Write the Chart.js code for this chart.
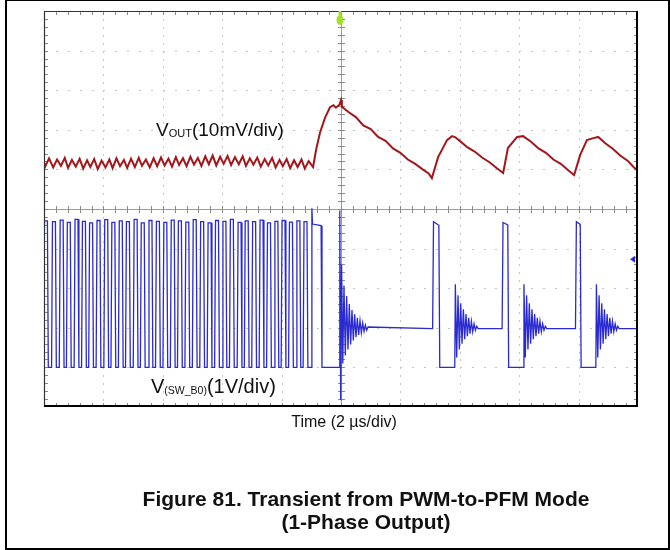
<!DOCTYPE html>
<html>
<head>
<meta charset="utf-8">
<script src="https://cdn.jsdelivr.net/npm/chart.js@4.4.0/dist/chart.umd.min.js"></script>
<style>
    body { margin: 0; background: #fff; }
    #page { position: relative; width: 670px; height: 550px; overflow: hidden; font-family: "Liberation Sans", Arial, sans-serif; color: #111; }
    #frame { position: absolute; left: 5px; top: -1px; width: 661px; height: 547px; border: 2px solid #000; }
    #scope { position: absolute; left: 0; top: 0; }
    .lbl { position: absolute; white-space: nowrap; line-height: 1; }
    .lbl .sub { vertical-align: baseline; position: relative; top: 1px; }
    #voutLabel { left: 156px; top: 120px; font-size: 19px; }
    #voutLabel .sub { font-size: 11px; }
    #swLabel { left: 151px; top: 376px; font-size: 20px; }
    #swLabel .sub { font-size: 10.5px; }
    #timeLabel { left: 194px; width: 300px; top: 414px; font-size: 16px; text-align: center; }
    #caption { left: 116px; width: 500px; top: 487px; font-size: 21px; line-height: 23px; font-weight: bold; text-align: center; }
</style>
</head>
<body>
<div id="page">
    <canvas id="scope" width="670" height="550"></canvas>
    <div id="frame"></div>
    <div class="lbl" id="voutLabel">V<span class="sub">OUT</span>(10mV/div)</div>
    <div class="lbl" id="swLabel">V<span class="sub">(SW_B0)</span>(1V/div)</div>
    <div class="lbl" id="timeLabel">Time (2 µs/div)</div>
    <div class="lbl" id="caption">Figure 81. Transient from PWM-to-PFM Mode<br>(1-Phase Output)</div>
</div>
<script>
// Time in microseconds (2 us/div, trigger at 0)
// PWM switching pulses of V(SW_B0): rising and falling edges, and top level in V
var pwmRise = [-10.00, -9.73, -9.47, -9.23, -8.97, -8.72, -8.48, -8.23, -7.97, -7.73, -7.48, -7.24,
    -6.98, -6.74, -6.48, -6.23, -5.98, -5.73, -5.49, -5.24, -4.99, -4.74, -4.49, -4.24,
    -3.99, -3.74, -3.48, -3.24, -2.99, -2.74, -2.49, -2.24, -2.00, -1.75, -1.50, -1.26];
var pwmFall = [-9.87, -9.60, -9.34, -9.10, -8.84, -8.59, -8.35, -8.10, -7.84, -7.60, -7.35, -7.11,
    -6.85, -6.61, -6.35, -6.10, -5.85, -5.60, -5.36, -5.11, -4.86, -4.61, -4.36, -4.11,
    -3.86, -3.61, -3.35, -3.11, -2.86, -2.61, -2.36, -2.11, -1.87, -1.62, -1.37, -1.13];
var pwmTop = [3.70, 3.68, 3.72, 3.66, 3.74, 3.69, 3.65, 3.71, 3.73, 3.66, 3.70, 3.68,
    3.74, 3.65, 3.71, 3.69, 3.66, 3.72, 3.70, 3.67, 3.73, 3.68, 3.65, 3.71,
    3.69, 3.74, 3.66, 3.70, 3.68, 3.72, 3.65, 3.69, 3.71, 3.67, 3.70, 3.68];
var swLow = 0.0;

// last wide pulse and the first ringing after the switch to PFM
var modeTimes = [-1.00, -0.98, -0.96, -0.67, -0.64, -0.06, -0.04, -0.01, 0.02, 0.06, 0.10, 0.145, 0.19, 0.235, 0.28,
    0.325, 0.37, 0.415, 0.46, 0.505, 0.55, 0.595, 0.64, 0.685, 0.73, 0.775, 0.82, 0.865, 0.91];
var modeVolts = [0.00, 4.02, 3.62, 3.58, 0.00, 0.00, 3.96, -0.83, 2.60, 0.10, 2.07, 0.30, 1.80, 0.45, 1.60,
    0.58, 1.45, 0.68, 1.34, 0.76, 1.25, 0.82, 1.18, 0.87, 1.12, 0.91, 1.07, 0.94, 1.02];

// PFM pulses
var pfmRise = [3.10, 5.44, 7.91];
var pfmFall = [3.31, 5.63, 8.07];
var pfmTopStart = [3.68, 3.66, 3.68];
var pfmTopEnd = [3.59, 3.60, 3.61];
var pfmRingStart = [3.83, 6.14, 8.58];
var pfmSettle = 0.98;
// ringing of SW node after each PFM pulse (time after ring start, volts)
var ringOffsets = [0, 0.02, 0.065, 0.11, 0.155, 0.20, 0.245, 0.29, 0.335, 0.38, 0.425, 0.47, 0.515, 0.56, 0.605, 0.65, 0.695, 0.74, 0.785];
var ringVolts = [0.00, 2.10, 0.25, 1.82, 0.45, 1.62, 0.60, 1.47, 0.71, 1.35, 0.79, 1.25, 0.85, 1.17, 0.90, 1.10, 0.94, 1.04, 0.98];

// V_OUT trace in mV (relative to PWM level)
var outTimes = [-10.00, -9.96, -9.83, -9.69, -9.56, -9.43, -9.30, -9.19, -9.06, -8.93, -8.80, -8.68, -8.55, -8.44, -8.31,
    -8.19, -8.06, -7.93, -7.80, -7.69, -7.56, -7.44, -7.31, -7.20, -7.07, -6.94, -6.81, -6.70, -6.57, -6.44, -6.31,
    -6.19, -6.06, -5.94, -5.81, -5.69, -5.56, -5.45, -5.32, -5.20, -5.07, -4.95, -4.82, -4.70, -4.57, -4.45, -4.32,
    -4.20, -4.07, -3.95, -3.82, -3.70, -3.57, -3.44, -3.31, -3.20, -3.07, -2.95, -2.82, -2.70, -2.57, -2.45, -2.32,
    -2.20, -2.07, -1.96, -1.83, -1.71, -1.58, -1.46, -1.33, -1.22, -1.09,
    -0.94, -0.84, -0.71, -0.54, -0.37, -0.25, -0.17, -0.05, 0.00, 0.03,
    0.25, 0.50, 0.75, 1.00, 1.25, 1.50, 1.75, 2.00, 2.25, 2.50, 2.75, 2.95, 3.06,
    3.27, 3.57, 3.74, 3.85, 4.00, 4.25, 4.50, 4.75, 5.00, 5.25, 5.46,
    5.62, 5.93, 6.13, 6.40, 6.65, 6.90, 7.15, 7.40, 7.65, 7.85,
    8.05, 8.28, 8.50, 8.66, 8.90, 9.15, 9.40, 9.65, 9.85, 10.00];
var outMv = [0.3, -0.9, 1.2, -1.1, 0.9, -0.7, 1.3, -1.2, 0.8, -0.9, 1.1, -1.4, 0.7, -1.0, 1.0,
    -1.5, 0.6, -1.1, 0.9, -1.3, 1.2, -0.8, 0.8, -1.2, 1.1, -1.0, 1.3, -0.7, 0.9, -1.1, 1.2,
    -0.8, 1.4, -0.6, 1.1, -0.9, 1.5, -0.5, 1.2, -0.8, 1.6, -0.4, 1.3, -0.7, 1.7, -0.3, 1.9,
    -0.6, 1.6, -0.2, 1.8, -0.5, 1.5, -0.3, 1.7, -0.7, 1.2, -0.4, 1.4, -0.9, 1.0, -0.6, 1.3,
    -1.1, 0.8, -0.8, 1.0, -1.3, 0.7, -1.0, 0.9, -1.4, 0.5,
    -1.0, 3.3, 7.6, 11.4, 14.1, 14.6, 14.0, 14.8, 15.9, 14.2,
    12.9, 11.6, 9.5, 8.6, 6.6, 5.6, 3.7, 2.6, 0.9, -0.2, -1.6, -2.6, -3.8,
    1.5, 5.8, 6.8, 6.5, 5.6, 4.0, 2.9, 1.4, 0.2, -1.3, -2.5,
    3.8, 6.6, 6.8, 5.4, 3.7, 2.6, 0.9, -0.2, -1.8, -3.0,
    2.0, 5.8, 6.3, 6.6, 5.0, 3.6, 1.9, 0.6, -1.0, -2.0];

// Build the SW node points from the edge lists
function buildSwPoints() {
    var edge = 0.015;
    var pts = [];
    for (var i = 0; i < pwmRise.length; i++) {
        pts.push({x: pwmRise[i] - edge, y: swLow});
        pts.push({x: pwmRise[i] + edge, y: pwmTop[i]});
        pts.push({x: pwmFall[i] - edge, y: pwmTop[i]});
        pts.push({x: pwmFall[i] + edge, y: swLow});
    }
    for (var j = 0; j < modeTimes.length; j++) {
        pts.push({x: modeTimes[j], y: modeVolts[j]});
    }
    for (var p = 0; p < pfmRise.length; p++) {
        pts.push({x: pfmRise[p] - edge, y: pfmSettle});
        pts.push({x: pfmRise[p] + edge, y: pfmTopStart[p]});
        pts.push({x: pfmFall[p] - edge, y: pfmTopEnd[p]});
        pts.push({x: pfmFall[p] + edge, y: swLow});
        for (var r = 0; r < ringOffsets.length; r++) {
            pts.push({x: pfmRingStart[p] + ringOffsets[r], y: ringVolts[r]});
        }
    }
    pts.push({x: 10, y: pfmSettle});
    return pts;
}

function buildOutPoints() {
    var pts = [];
    for (var i = 0; i < outTimes.length; i++) {
        pts.push({x: outTimes[i], y: outMv[i]});
    }
    return pts;
}

// Scope graticule: 10 x 10 divisions, dotted grid, centre cross with minor ticks
var graticule = {
    id: 'graticule',
    beforeDatasetsDraw: function(chart) {
        var c = chart.ctx;
        var a = chart.chartArea;
        var dw = (a.right - a.left) / 10;
        var dh = (a.bottom - a.top) / 10;
        var cx = Math.round(chart.scales.x.getPixelForValue(0));
        var cy = Math.round(a.top + 5 * dh);
        c.save();
        // dotted grid lines
        c.fillStyle = '#c4c4c4';
        for (var i = 1; i < 10; i++) {
            if (i == 5) continue;
            var gx = Math.round(a.left + i * dw);
            var gy = Math.round(a.top + i * dh);
            for (var k = 1; k < 50; k++) {
                c.fillRect(gx, Math.round(a.top + k * dh / 5), 1, 2);
                c.fillRect(Math.round(a.left + k * dw / 5), gy, 2, 1);
            }
        }
        // centre cross
        c.strokeStyle = '#9c9c9c';
        c.lineWidth = 1;
        c.beginPath();
        c.moveTo(cx + 0.5, a.top);
        c.lineTo(cx + 0.5, a.bottom);
        c.moveTo(a.left, cy + 0.5);
        c.lineTo(a.right, cy + 0.5);
        c.stroke();
        // minor ticks on the cross and along the edges
        c.strokeStyle = '#8a8a8a';
        c.beginPath();
        for (var m = 1; m < 50; m++) {
            var ty = Math.round(a.top + m * dh / 5) + 0.5;
            var tx = Math.round(a.left + m * dw / 5) + 0.5;
            c.moveTo(cx - 3, ty); c.lineTo(cx + 4, ty);
            c.moveTo(tx, cy - 3); c.lineTo(tx, cy + 4);
            c.moveTo(a.left, ty); c.lineTo(a.left + 4, ty);
            c.moveTo(a.right - 4, ty); c.lineTo(a.right, ty);
            c.moveTo(tx, a.top); c.lineTo(tx, a.top + 4);
            c.moveTo(tx, a.bottom - 4); c.lineTo(tx, a.bottom);
        }
        c.stroke();
        c.restore();
    },
    afterDatasetsDraw: function(chart) {
        var c = chart.ctx;
        var a = chart.chartArea;
        c.save();
        // outer frame of the screen
        c.strokeStyle = '#333';
        c.lineWidth = 1.2;
        c.beginPath();
        c.moveTo(a.left + 0.5, a.bottom);
        c.lineTo(a.left + 0.5, a.top + 0.5);
        c.lineTo(a.right, a.top + 0.5);
        c.stroke();
        c.strokeStyle = '#000';
        c.lineWidth = 2;
        c.beginPath();
        c.moveTo(a.right - 1, a.top);
        c.lineTo(a.right - 1, a.bottom - 1);
        c.lineTo(a.left, a.bottom - 1);
        c.stroke();
        // trigger position marker (green) at the top
        var tx = chart.scales.x.getPixelForValue(0) - 1;
        c.fillStyle = '#a4e02a';
        c.fillRect(tx - 1.5, a.top, 3, 4);
        c.beginPath();
        c.ellipse(tx, a.top + 9, 3.5, 5, 0, 0, Math.PI * 2);
        c.fill();
        // trigger level marker (blue arrow) on the right
        var ly = chart.scales.ySw.getPixelForValue(2.73);
        c.fillStyle = '#2a2ad2';
        c.beginPath();
        c.moveTo(a.right - 8, ly);
        c.lineTo(a.right - 3, ly - 3.5);
        c.lineTo(a.right - 3, ly + 3.5);
        c.closePath();
        c.fill();
        c.restore();
    }
};

var ctx = document.getElementById('scope').getContext('2d');
var scopeChart = new Chart(ctx, {
    type: 'line',
    data: {
        datasets: [
            {
                label: 'V(SW_B0)',
                data: buildSwPoints(),
                yAxisID: 'ySw',
                borderColor: '#2a2ad2',
                borderWidth: 1.3,
                pointRadius: 0,
                tension: 0
            },
            {
                label: 'VOUT',
                data: buildOutPoints(),
                yAxisID: 'yOut',
                borderColor: '#a3161b',
                borderWidth: 2,
                pointRadius: 0,
                tension: 0
            }
        ]
    },
    options: {
        responsive: false,
        animation: false,
        events: [],
        layout: { padding: { left: 44, top: 11, right: 32, bottom: 143 } },
        plugins: { legend: { display: false }, tooltip: { enabled: false } },
        scales: {
            x: { type: 'linear', min: -10, max: 10, display: false },
            yOut: { type: 'linear', min: -61.6, max: 38.4, display: false },
            ySw: { type: 'linear', min: -1, max: 9, display: false }
        }
    },
    plugins: [graticule]
});
</script>
</body>
</html>
